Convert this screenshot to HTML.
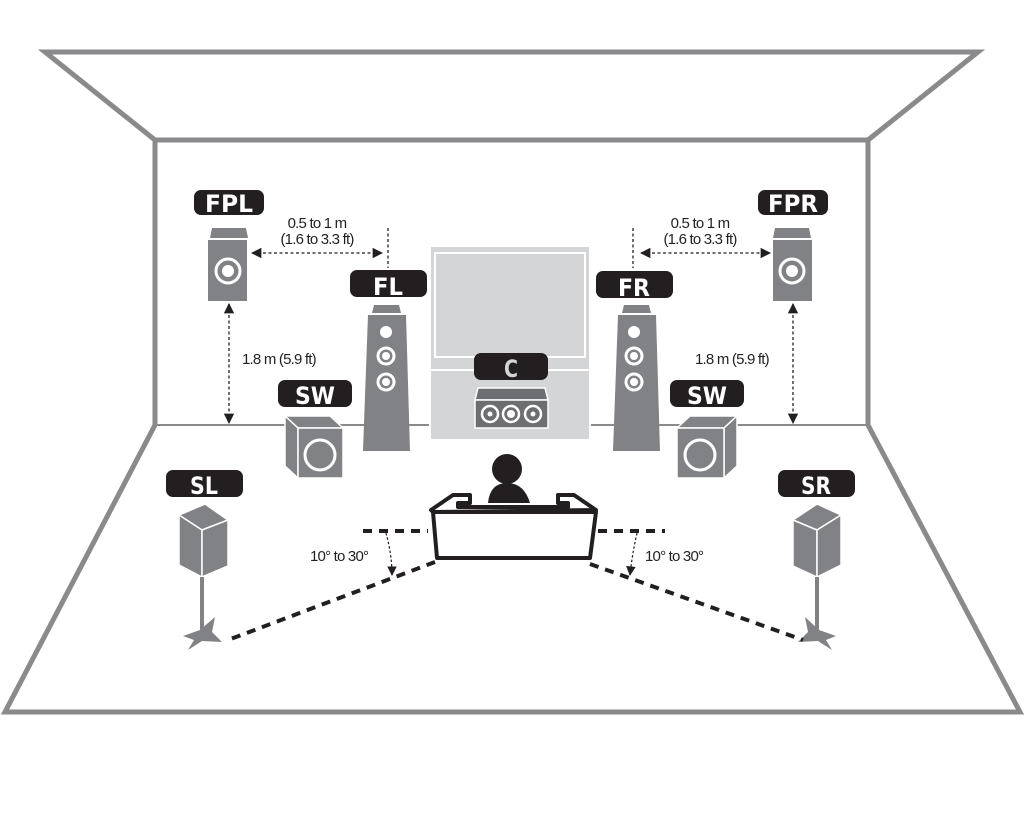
<!DOCTYPE html>
<html><head><meta charset="utf-8"><style>
html,body{margin:0;padding:0;background:#fff;}
svg{display:block;}
text{font-family:"Liberation Sans",sans-serif;}
.lbl{fill:#fff;font-weight:bold;font-size:24px;text-anchor:middle;font-family:"DejaVu Sans","Liberation Sans",sans-serif;}
.t{font-size:15px;fill:#231f20;letter-spacing:-0.8px;}
</style></head><body>
<svg width="1024" height="819" viewBox="0 0 1024 819" xmlns="http://www.w3.org/2000/svg">
<defs>
<marker id="ah" viewBox="0 0 10 10" refX="9" refY="5" markerWidth="8" markerHeight="8" orient="auto-start-reverse"><path d="M0,0 L10,5 L0,10 z" fill="#231f20"/></marker>
</defs>
<g stroke="#8a8a8c" stroke-width="5" fill="none" stroke-linejoin="miter">
<polyline points="155,425 155,140 45,52 978,52 868,140 868,425"/>
<line x1="155" y1="140" x2="868" y2="140"/>
<polyline points="155,425 5,712 1020,712 868,425"/>
</g>
<line x1="155" y1="425" x2="868" y2="425" stroke="#8a8a8c" stroke-width="2"/>

<rect x="430" y="246" width="160" height="194" fill="#d4d5d7" stroke="#fff" stroke-width="2"/>
<rect x="435" y="253" width="150" height="104" fill="#d4d5d7" stroke="#fff" stroke-width="2"/>
<line x1="430" y1="370" x2="590" y2="370" stroke="#fff" stroke-width="2"/>
<rect x="474" y="353" width="74" height="27" rx="7" fill="#231f20"/>
<text x="511" y="377" class="lbl" style="fill:#d4d5d7" textLength="14" lengthAdjust="spacingAndGlyphs">C</text>
<polygon points="478,388 545,388 548,400 475,400" fill="#6d6e71" stroke="#fff" stroke-width="1.5"/>
<rect x="475" y="400" width="73" height="28" fill="#6d6e71" stroke="#fff" stroke-width="1.5"/>
<g fill="none" stroke="#fff" stroke-width="2.5"><circle cx="490" cy="414" r="8"/><circle cx="511" cy="414" r="8"/><circle cx="533" cy="414" r="8"/></g>
<g fill="#fff"><circle cx="490" cy="414" r="2.5"/><circle cx="511" cy="414" r="4"/><circle cx="533" cy="414" r="2.5"/></g>

<rect x="194" y="190" width="70" height="25" rx="7" fill="#231f20"/>
<text x="229" y="212" class="lbl" textLength="48" lengthAdjust="spacingAndGlyphs">FPL</text>
<polygon points="212,228 246,228 248,238 210,238" fill="#808285"/>
<rect x="208" y="240" width="39" height="61" fill="#808285"/>
<circle cx="228" cy="271" r="12" fill="none" stroke="#fff" stroke-width="3"/>
<circle cx="228" cy="271" r="6" fill="#fff"/>
<rect x="758" y="190" width="70" height="25" rx="7" fill="#231f20"/>
<text x="793" y="212" class="lbl" textLength="50" lengthAdjust="spacingAndGlyphs">FPR</text>
<polygon points="775,228 809,228 811,238 773,238" fill="#808285"/>
<rect x="773" y="240" width="39" height="61" fill="#808285"/>
<circle cx="792" cy="271" r="12" fill="none" stroke="#fff" stroke-width="3"/>
<circle cx="792" cy="271" r="6" fill="#fff"/>

<rect x="350" y="270" width="77" height="27" rx="7" fill="#231f20"/>
<text x="388" y="295" class="lbl" textLength="30" lengthAdjust="spacingAndGlyphs">FL</text>
<polygon points="374,305 399,305 401,313 372,313" fill="#808285"/>
<polygon points="368,315 406,315 410,451 363,451" fill="#808285"/>
<circle cx="386" cy="332" r="6" fill="#fff"/>
<circle cx="386" cy="356" r="8" fill="none" stroke="#fff" stroke-width="3"/><circle cx="386" cy="356" r="4" fill="#fff"/>
<circle cx="386" cy="382" r="8" fill="none" stroke="#fff" stroke-width="3"/><circle cx="386" cy="382" r="4" fill="#fff"/>
<rect x="596" y="271" width="77" height="27" rx="7" fill="#231f20"/>
<text x="634" y="296" class="lbl" textLength="32" lengthAdjust="spacingAndGlyphs">FR</text>
<polygon points="624,305 649,305 651,313 622,313" fill="#808285"/>
<polygon points="618,315 656,315 660,451 613,451" fill="#808285"/>
<circle cx="634" cy="332" r="6" fill="#fff"/>
<circle cx="634" cy="356" r="8" fill="none" stroke="#fff" stroke-width="3"/><circle cx="634" cy="356" r="4" fill="#fff"/>
<circle cx="634" cy="382" r="8" fill="none" stroke="#fff" stroke-width="3"/><circle cx="634" cy="382" r="4" fill="#fff"/>

<g stroke="#231f20" stroke-width="1.3" stroke-dasharray="3,2.5" fill="none">
<line x1="388" y1="228" x2="388" y2="268"/>
<line x1="633" y1="228" x2="633" y2="268"/>
<line x1="252" y1="253" x2="382" y2="253" marker-start="url(#ah)" marker-end="url(#ah)"/>
<line x1="641" y1="253" x2="770" y2="253" marker-start="url(#ah)" marker-end="url(#ah)"/>
<line x1="229" y1="304" x2="229" y2="423" marker-start="url(#ah)" marker-end="url(#ah)"/>
<line x1="793" y1="304" x2="793" y2="423" marker-start="url(#ah)" marker-end="url(#ah)"/>
</g>
<text x="317" y="228" class="t" text-anchor="middle">0.5 to 1 m</text>
<text x="317" y="244" class="t" text-anchor="middle">(1.6 to 3.3 ft)</text>
<text x="700" y="228" class="t" text-anchor="middle">0.5 to 1 m</text>
<text x="700" y="244" class="t" text-anchor="middle">(1.6 to 3.3 ft)</text>
<text x="242" y="364" class="t">1.8 m (5.9 ft)</text>
<text x="695" y="364" class="t">1.8 m (5.9 ft)</text>

<rect x="278" y="380" width="74" height="27" rx="7" fill="#231f20"/>
<text x="315" y="404" class="lbl" textLength="40" lengthAdjust="spacingAndGlyphs">SW</text>
<polygon points="285,416 330,416 343,428 298,428" fill="#808285" stroke="#fff" stroke-width="1.5"/>
<polygon points="285,416 298,428 298,478 285,466" fill="#808285" stroke="#fff" stroke-width="1.5"/>
<rect x="298" y="428" width="45" height="50" fill="#808285" stroke="#fff" stroke-width="1.5"/>
<circle cx="320" cy="455" r="15" fill="none" stroke="#fff" stroke-width="3"/>
<rect x="670" y="380" width="74" height="27" rx="7" fill="#231f20"/>
<text x="707" y="404" class="lbl" textLength="40" lengthAdjust="spacingAndGlyphs">SW</text>
<polygon points="690,416 737,416 724,428 677,428" fill="#808285" stroke="#fff" stroke-width="1.5"/>
<polygon points="737,416 737,466 724,478 724,428" fill="#808285" stroke="#fff" stroke-width="1.5"/>
<rect x="677" y="428" width="47" height="50" fill="#808285" stroke="#fff" stroke-width="1.5"/>
<circle cx="700" cy="455" r="15" fill="none" stroke="#fff" stroke-width="3"/>

<rect x="166" y="470" width="77" height="27" rx="7" fill="#231f20"/>
<text x="204" y="494" class="lbl" textLength="28" lengthAdjust="spacingAndGlyphs">SL</text>
<polygon points="179,515 205,504 228,520 202,530" fill="#808285" stroke="#fff" stroke-width="1.5"/>
<polygon points="179,515 202,530 202,577 179,565" fill="#808285" stroke="#fff" stroke-width="1.5"/>
<polygon points="202,530 228,520 228,566 202,577" fill="#808285" stroke="#fff" stroke-width="1.5"/>
<rect x="200" y="577" width="4" height="54" fill="#808285"/>
<path d="M183,636 L200,630 L215,617 L212,632 L222,642 L202,641 L188,650 L194,640 Z" fill="#808285"/>
<rect x="778" y="470" width="77" height="27" rx="7" fill="#231f20"/>
<text x="816" y="494" class="lbl" textLength="30" lengthAdjust="spacingAndGlyphs">SR</text>
<polygon points="793,520 817,504 841,515 817,530" fill="#808285" stroke="#fff" stroke-width="1.5"/>
<polygon points="793,520 817,530 817,577 793,566" fill="#808285" stroke="#fff" stroke-width="1.5"/>
<polygon points="817,530 841,515 841,565 817,577" fill="#808285" stroke="#fff" stroke-width="1.5"/>
<rect x="815" y="577" width="4" height="54" fill="#808285"/>
<path d="M836,636 L819,630 L805,617 L808,632 L798,642 L818,641 L832,650 L826,640 Z" fill="#808285"/>

<circle cx="507" cy="469" r="15" fill="#231f20"/>
<path d="M488,503 Q490,483 507,483 Q524,483 530,503 Z" fill="#231f20"/>
<g stroke="#231f20" stroke-width="4" fill="#fff" stroke-linejoin="round">
<polygon points="431,510 453,495 470,495 470,503 458,503 458,507 568,507 568,503 558,503 558,495 574,495 596,510 433,512"/>
<polygon points="433,512 596,512 590,558 437,558"/>
</g>
<g stroke="#231f20" stroke-width="4" stroke-dasharray="9,7" fill="none">
<line x1="363" y1="531" x2="428" y2="531"/>
<line x1="598" y1="531" x2="665" y2="531"/>
<line x1="435" y1="562" x2="228" y2="640"/>
<line x1="590" y1="564" x2="803" y2="640"/>
</g>
<g stroke="#231f20" stroke-width="1.2" stroke-dasharray="2.5,2" fill="none">
<path d="M386,533 Q392,555 392,575" marker-end="url(#ah)"/>
<path d="M637,533 Q632,555 630,575" marker-end="url(#ah)"/>
</g>
<text x="310" y="561" class="t">10° to 30°</text>
<text x="645" y="561" class="t">10° to 30°</text>
</svg>
</body></html>
